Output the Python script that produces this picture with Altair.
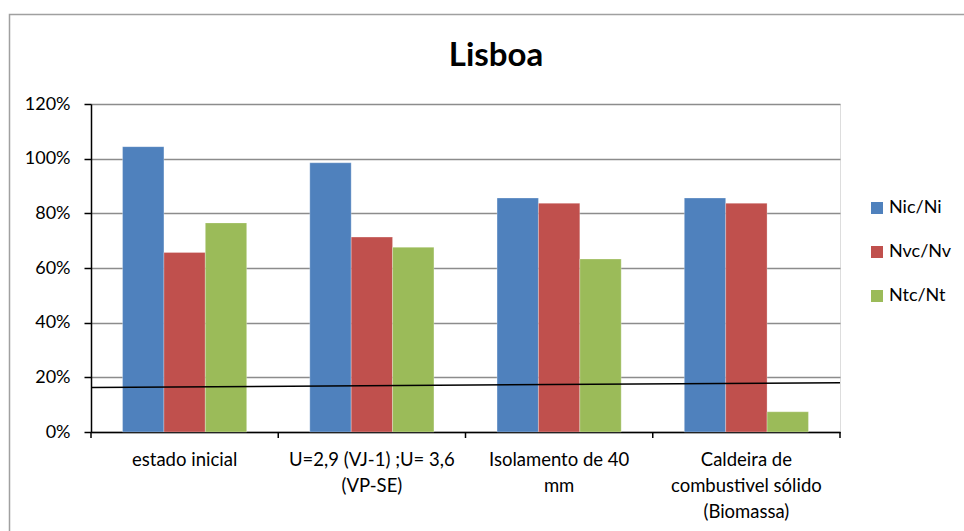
import altair as alt
import pandas as pd

title_text = "Lisboa"
categories = ["estado inicial", "U=2,9 (VJ-1) ;U= 3,6\n(VP-SE)", "Isolamento de 40\nmm",
              "Caldeira de\ncombustivel sólido\n(Biomassa)"]
series = ["Nic/Ni", "Nvc/Nv", "Ntc/Nt"]
nic_ni = [1.044, 0.985, 0.856, 0.856]
nvc_nv = [0.657, 0.713, 0.837, 0.837]
ntc_nt = [0.765, 0.676, 0.633, 0.074]
trend_start, trend_end = 0.163, 0.180
colors = ["#4F81BD", "#C0504D", "#9BBB59"]

rows = []
for s, vals in zip(series, [nic_ni, nvc_nv, ntc_nt]):
    for c, v in zip(categories, vals):
        rows.append({"cat": c, "serie": s, "val": v})
df = pd.DataFrame(rows)
cat_df = pd.DataFrame({"cat": categories})

W, H = 749, 328
FONT = "Lato"
P_IN, P_OUT = 0.337, 0.1685
x_scale = alt.Scale(domain=categories, paddingInner=P_IN, paddingOuter=P_OUT)
step = W / (len(categories) - P_IN + 2 * P_OUT)
half_gap = step * P_IN / 2

x_enc = alt.X("cat:N", sort=categories, title=None, scale=x_scale,
              axis=alt.Axis(labelAngle=0, labelExpr="split(datum.label, '\\n')",
                            ticks=False, domainColor="black",
                            domainWidth=1.5, labelPadding=18, labelFontSize=18.5,
                            labelLineHeight=26, labelFont=FONT, labelColor="black", grid=False))
y_scale = alt.Scale(domain=[0, 1.2], nice=False)

bars = alt.Chart(df).mark_bar(stroke="white", strokeOpacity=0.35, strokeWidth=0.8).encode(
    x=x_enc,
    xOffset=alt.XOffset("serie:N", sort=series, scale=alt.Scale(paddingInner=0, paddingOuter=0)),
    y=alt.Y("val:Q", scale=y_scale, title=None,
            axis=alt.Axis(values=[0, 0.2, 0.4, 0.6, 0.8, 1.0, 1.2], format=".0%",
                          tickSize=7, tickColor="black", tickWidth=1.5, domainColor="black",
                          domainWidth=1.5, labelPadding=14, labelFontSize=18, labelFont=FONT,
                          labelColor="black", gridColor="#8c8c8c", gridWidth=1.5)),
    color=alt.Color("serie:N", sort=series, scale=alt.Scale(domain=series, range=colors),
                    legend=alt.Legend(title=None, orient="none", legendX=777, legendY=95,
                                      symbolType="square", symbolSize=144, symbolStrokeWidth=0,
                                      labelFontSize=18, labelFont=FONT, labelColor="black",
                                      rowPadding=26, labelOffset=3)),
)

# x-axis ticks at group boundaries
xticks = alt.Chart(cat_df).mark_rule(color="black", strokeWidth=1.5, xOffset=-half_gap).encode(
    x=alt.X("cat:N", sort=categories, scale=x_scale, bandPosition=0),
    y=alt.value(H), y2=alt.value(H + 6),
)
xtick_end = alt.Chart(cat_df.tail(1)).mark_rule(color="black", strokeWidth=1.5, xOffset=half_gap).encode(
    x=alt.X("cat:N", sort=categories, scale=x_scale, bandPosition=1),
    y=alt.value(H), y2=alt.value(H + 6),
)

trend_df = pd.DataFrame({"y0": [trend_start], "y1": [trend_end]})
trend = alt.Chart(trend_df).mark_rule(color="black", strokeWidth=1.5).encode(
    x=alt.value(0), x2=alt.value(W),
    y=alt.Y("y0:Q", scale=y_scale), y2="y1:Q",
)

border = alt.Chart(trend_df).mark_rect(fill="transparent", stroke="#a0a0a0", strokeWidth=1.5).encode(
    x=alt.value(9.5 - 91), x2=alt.value(964 - 91 + 10),
    y=alt.value(14.5 - 104), y2=alt.value(531 - 104 + 10),
)

title = alt.Chart(pd.DataFrame({"t": [title_text]})).mark_text(
    font=FONT, fontSize=33, fontWeight="bold", color="black", align="center", baseline="alphabetic"
).encode(x=alt.value(405), y=alt.value(-38), text="t:N")

chart = alt.layer(border, bars, xticks, xtick_end, trend, title).properties(
    width=W, height=H,
    autosize=alt.AutoSizeParams(type="none"),
    padding={"left": 91, "top": 104, "right": 124, "bottom": 99},
).configure_view(stroke="black", strokeWidth=1.5).configure(background="white")

chart.save("out.html", embed_options={"renderer": "svg", "actions": False})
